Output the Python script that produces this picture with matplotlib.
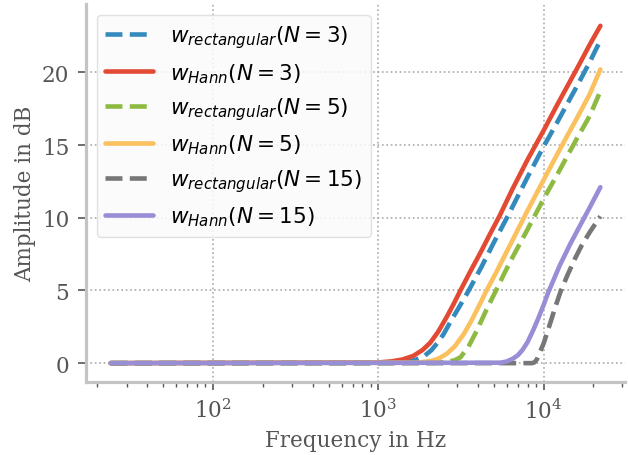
# Magnitude of the inverse of moving-average windows (rectangular vs. Hann)
import matplotlib
matplotlib.use("Agg")
import matplotlib.pyplot as plt

# values (frequency in Hz, amplitude in dB)
f_rect3 = [24, 1200, 1500, 1700, 1880, 2100, 2300, 2485, 2750, 3100, 3525, 4200,
           5000, 6000, 7000, 8000, 10000, 12000, 14000, 16000, 19000, 22050]
a_rect3 = [0, 0.02, 0.1, 0.25, 0.45, 0.9, 1.45, 2.0, 2.9, 3.9, 5.0, 6.6,
           8.3, 10.0, 11.5, 12.8, 14.9, 16.5, 17.9, 19.1, 20.7, 22.2]

f_hann3 = [24, 1000, 1200, 1400, 1630, 1850, 2060, 2300, 2600, 2850, 3140, 3600,
           4150, 4700, 5400, 6500, 8000, 10000, 12000, 14000, 16000, 19000, 22050]
a_hann3 = [0, 0.05, 0.12, 0.25, 0.5, 0.9, 1.4, 2.15, 3.2, 4.05, 5.0, 6.3,
           7.6, 8.8, 10.1, 12.0, 14.0, 16.0, 17.7, 19.1, 20.3, 21.9, 23.2]

f_rect5 = [24, 2200, 2600, 2900, 3140, 3500, 3970, 4500, 5130, 5800, 6500,
           8000, 10000, 12000, 14000, 16000, 19000, 22050]
a_rect5 = [0, 0.02, 0.08, 0.2, 0.4, 1.1, 2.3, 3.65, 4.95, 6.2, 7.3,
           9.2, 11.3, 12.9, 14.3, 15.5, 17.0, 18.7]

f_hann5 = [24, 1700, 2100, 2350, 2600, 2900, 3290, 3650, 4050, 4520, 5200,
           6000, 7000, 8000, 10000, 12000, 14000, 16000, 19000, 22050]
a_hann5 = [0, 0.03, 0.15, 0.35, 0.65, 1.15, 2.0, 2.9, 3.9, 5.0, 6.3,
           7.7, 9.2, 10.5, 12.6, 14.3, 15.7, 16.9, 18.5, 20.2]

f_rect15 = [24, 8500, 8800, 9100, 9500, 10000, 10330, 11000, 11800, 12740,
            14000, 15500, 17000, 19000, 22050]
a_rect15 = [0, 0, 0.05, 0.25, 0.75, 1.35, 1.84, 2.8, 3.9, 5.0,
            6.1, 7.2, 8.1, 9.0, 10.1]

f_hann15 = [24, 5500, 6000, 6500, 7000, 7500, 8000, 8600, 9300, 10000, 10700,
            12500, 14500, 16500, 19000, 22050]
a_hann15 = [0, 0.03, 0.12, 0.3, 0.55, 0.95, 1.45, 2.2, 3.1, 4.0, 4.9,
            6.7, 8.2, 9.4, 10.7, 12.1]

labels = [r"$w_{rectangular}(N=3)$", r"$w_{Hann}(N=3)$",
          r"$w_{rectangular}(N=5)$", r"$w_{Hann}(N=5)$",
          r"$w_{rectangular}(N=15)$", r"$w_{Hann}(N=15)$"]
colors = ["#348ABD", "#E24A33", "#8EBA42", "#FBC15E", "#777777", "#988ED5"]

plt.rcParams["font.family"] = "serif"
plt.rcParams["font.serif"] = ["DejaVu Serif"]
plt.rcParams["mathtext.fontset"] = "dejavusans"
plt.rcParams["font.size"] = 15.5

fig = plt.figure(figsize=(6.28, 4.56), dpi=100)
ax = fig.add_axes([0.137, 0.160, 0.858, 0.829])

series = [(f_rect3, a_rect3), (f_hann3, a_hann3), (f_rect5, a_rect5),
          (f_hann5, a_hann5), (f_rect15, a_rect15), (f_hann15, a_hann15)]
for i, (f, a) in enumerate(series):
    ls = "--" if i % 2 == 0 else "-"
    ax.plot(f, a, ls, color=colors[i], lw=3.3, label=labels[i],
            solid_capstyle="round")

ax.set_xscale("log")
ax.set_ylim(-1.3, 24.7)
ax.set_yticks([0, 5, 10, 15, 20])
ax.set_xlabel("Frequency in Hz", color="#555555")
ax.set_ylabel("Amplitude in dB", color="#555555")

# spines and ticks
for s in ["top", "right"]:
    ax.spines[s].set_visible(False)
for s in ["left", "bottom"]:
    ax.spines[s].set_color("#c4c4c4")
    ax.spines[s].set_linewidth(2.3)
ax.tick_params(which="major", direction="out", length=6, width=1.2,
               color="#555555", labelcolor="#555555", labelsize=15.5, pad=6)
ax.tick_params(which="minor", direction="out", length=3.5, width=1,
               color="#555555")
ax.grid(True, which="major", ls=":", color="#aaaaaa", lw=1.2)

leg = ax.legend(loc="upper left", fontsize=15.5, handlelength=2.2,
                frameon=True, fancybox=True, framealpha=0.85,
                facecolor="#fbfbfb", edgecolor="#dddddd")

fig.savefig("out.png", dpi=100)
